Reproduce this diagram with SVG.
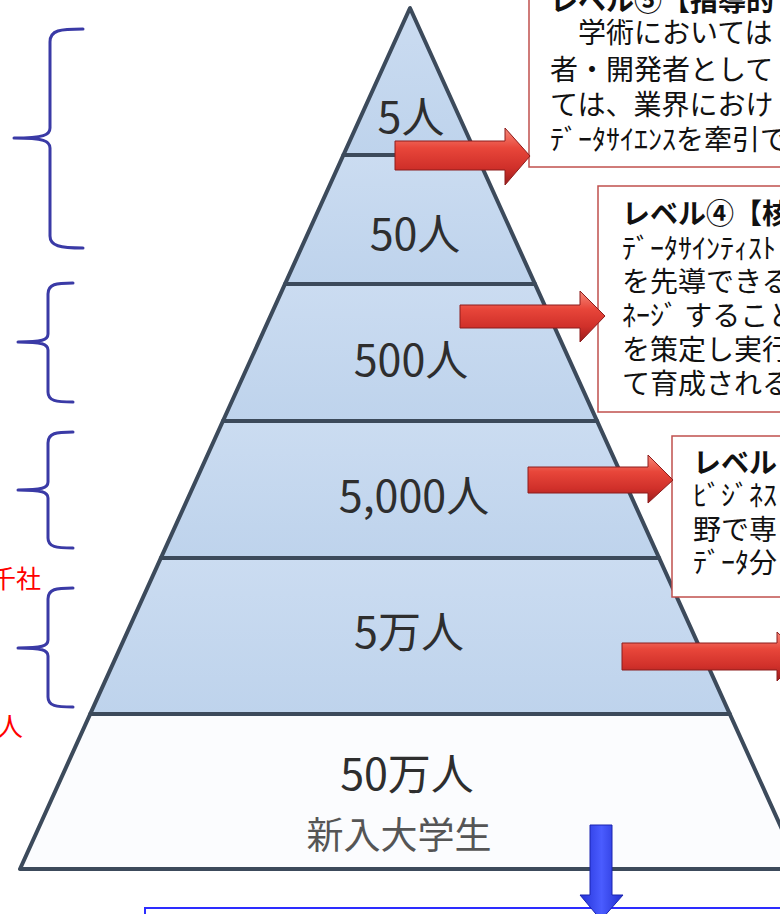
<svg xmlns="http://www.w3.org/2000/svg" width="780" height="914" viewBox="0 0 780 914">
<defs>
<linearGradient id="redGrad" x1="0" y1="0" x2="0" y2="1">
<stop offset="0" stop-color="#f6897a"/>
<stop offset="0.35" stop-color="#e8463a"/>
<stop offset="0.7" stop-color="#d0302a"/>
<stop offset="1" stop-color="#9a1d1d"/>
</linearGradient>
<linearGradient id="blueGrad" x1="0" y1="0" x2="1" y2="0">
<stop offset="0" stop-color="#2433d8"/>
<stop offset="0.5" stop-color="#4a5cff"/>
<stop offset="1" stop-color="#2230d0"/>
</linearGradient>
<linearGradient id="bandGrad" x1="0" y1="0" x2="0" y2="1">
<stop offset="0" stop-color="#cbdcf1"/>
<stop offset="1" stop-color="#bed3ec"/>
</linearGradient>
<style>
.band{fill:url(#bandGrad);}
.base{fill:#fbfcfe;}
.edge{fill:none;stroke:#3c4a5b;stroke-width:4;stroke-linejoin:round;stroke-linecap:round;}
.num{font-family:"Noto Sans CJK JP","Noto Sans",sans-serif;font-size:43px;fill:#2e2e2e;text-anchor:middle;}
.sub{font-family:"Noto Sans CJK JP","Noto Sans",sans-serif;font-size:37px;fill:#555;text-anchor:middle;}
.box{fill:#ffffff;stroke:#c0504d;stroke-width:1.5;}
.bt{font-family:"Noto Sans CJK JP","Noto Sans",sans-serif;font-size:28px;fill:#111;}
.ttl{font-weight:bold;}
.brace{fill:none;stroke:#3a3aa6;stroke-width:3;stroke-linecap:round;stroke-linejoin:round;}
.red{font-family:"Noto Sans CJK JP","Noto Sans",sans-serif;fill:#ff0000;}
.rarrow{fill:url(#redGrad);stroke:#8c1c1c;stroke-width:1;}
</style>
</defs>
<rect width="780" height="914" fill="#ffffff"/>

<g id="pyramid">
<g id="band-5">
<polygon class="band" points="410,8 476.6,155 343.4,155"/>
<text class="num" x="411" y="133">5人</text>
</g>
<g id="band-50">
<polygon class="band" points="343.4,155 476.6,155 535,284 285,284"/>
<text class="num" x="415" y="250">50人</text>
</g>
<g id="band-500">
<polygon class="band" points="285,284 535,284 597.1,421 222.9,421"/>
<text class="num" x="411" y="376">500人</text>
</g>
<g id="band-5000">
<polygon class="band" points="222.9,421 597.1,421 659.2,558 160.8,558"/>
<text class="num" x="414" y="512">5,000人</text>
</g>
<g id="band-50k">
<polygon class="band" points="160.8,558 659.2,558 729.8,714 90.2,714"/>
<text class="num" x="409" y="648">5万人</text>
</g>
<g id="band-500k">
<polygon class="base" points="90.2,714 729.8,714 800,869 20,869"/>
<text class="num" x="407" y="790">50万人</text>
<text class="sub" x="399" y="849">新入大学生</text>
</g>
<g id="pyramid-lines">
<polyline class="edge" points="800,869 410,8 20,869 800,869"/>
<line class="edge" x1="343.4" y1="155" x2="476.6" y2="155"/>
<line class="edge" x1="285" y1="284" x2="535" y2="284"/>
<line class="edge" x1="222.9" y1="421" x2="597.1" y2="421"/>
<line class="edge" x1="160.8" y1="558" x2="659.2" y2="558"/>
<line class="edge" x1="90.2" y1="714" x2="729.8" y2="714"/>
</g>
</g>

<g id="braces">
<path class="brace" d="M83,29 C60,29 50,30 50,42 L50,128 C50,135 44,138 14,138 C44,138 50,141 50,148 L50,236 C50,246 60,248 83,248"/>
<path class="brace" d="M73,283 C56,283 48,284 48,294 L48,334 C48,340 42,342 18,342 C42,342 48,344 48,350 L48,392 C48,401 56,402 73,402"/>
<path class="brace" d="M73,432 C56,432 48,433 48,443 L48,482 C48,488 42,490 18,490 C42,490 48,492 48,498 L48,538 C48,547 56,548 73,548"/>
<path class="brace" d="M73,588 C56,588 48,589 48,599 L48,640 C48,646 42,648 18,648 C42,648 48,650 48,656 L48,697 C48,706 56,707 73,707"/>
</g>

<g id="left-labels">
<text class="red" x="41" y="588" font-size="25" text-anchor="end">千社</text>
<text class="red" x="-3" y="736" font-size="26">人</text>
</g>

<g id="box-level5">
<rect class="box" x="529" y="-10" width="300" height="177"/>
<text class="bt ttl" x="550" y="11">レベル⑤【指導的</text>
<text class="bt" x="550" y="43">　学術においては</text>
<text class="bt" x="550" y="80">者・開発者として</text>
<text class="bt" x="550" y="115">ては、業界におけ</text>
<text class="bt" x="550" y="150">ﾃﾞｰﾀｻｲｴﾝｽを牽引で</text>
</g>

<g id="box-level4">
<rect class="box" x="598" y="186" width="250" height="226"/>
<text class="bt ttl" x="622" y="224">レベル④【核</text>
<text class="bt" x="622" y="259">ﾃﾞｰﾀｻｲﾝﾃｨｽﾄ</text>
<text class="bt" x="622" y="292">を先導できる</text>
<text class="bt" x="622" y="326">ﾈｰｼﾞ すること</text>
<text class="bt" x="622" y="360">を策定し実行</text>
<text class="bt" x="622" y="394">て育成される</text>
</g>

<g id="box-level3">
<rect class="box" x="672" y="436" width="200" height="161"/>
<text class="bt ttl" x="693" y="473">レベル</text>
<text class="bt" x="693" y="506">ﾋﾞｼﾞﾈｽ</text>
<text class="bt" x="693" y="540">野で専</text>
<text class="bt" x="693" y="573">ﾃﾞｰﾀ分</text>
</g>

<g id="box-bottom">
<rect x="145" y="908" width="700" height="60" fill="none" stroke="#2d2dff" stroke-width="2"/>
</g>

<g id="connectors">
<polygon class="rarrow" points="395,141 505,141 505,128 530,156 505,185 505,170 395,170"/>
<polygon class="rarrow" points="460,305 580,305 580,291 605,316 580,342 580,328 460,328"/>
<polygon class="rarrow" points="528,467 648,467 648,455 673,480 648,503 648,493 528,493"/>
<polygon class="rarrow" points="622,643 777,643 777,632 802,656 777,681 777,670 622,670"/>
<polygon points="590,825 612,825 612,895 623,895 601,920 580,895 590,895" fill="url(#blueGrad)" stroke="#1a24b0" stroke-width="1"/>
</g>
</svg>
